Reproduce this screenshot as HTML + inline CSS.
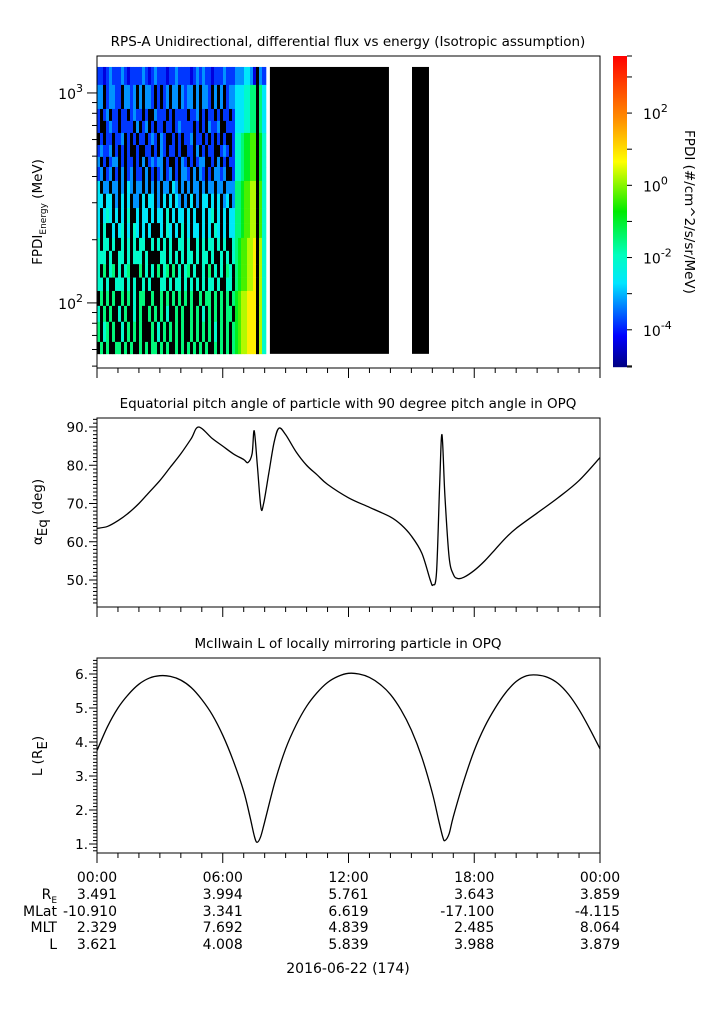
<!DOCTYPE html>
<html><head><meta charset="utf-8"><style>
html,body{margin:0;padding:0;background:#fff;}
svg{display:block;font-family:"DejaVu Sans","Liberation Sans",sans-serif;}
</style></head><body>
<svg id="chart" width="725" height="1019" viewBox="0 0 725 1019" xmlns="http://www.w3.org/2000/svg">
<rect x="0" y="0" width="725" height="1019" fill="#fff"/>
<g id="g1"></g>
<g id="g2"></g>
<g id="g3"></g>
<g id="gcb"></g>
<g id="gtab"></g>
</svg>
<script>
// ---- data ----
const rowEdgesMeV=[1330,1092,839,736,645,565,496,444,381,331,283,240,204,177,153,132,114,96.8,81.3,65.2,57.2];
const fluxRows=[
"1101211121011112101211101121111012121101112111"+"2223320.21",
"22.12211.2212.2.221.1.12.22.2122.2.221.2.2.122"+"3334455.53",
"1.12.11.11.1211.1..2111.1.1111.112.1.11.1.11.1"+"3334455.53",
"1..1211.1111.2.12.1.11.11.121111.1.1.2112..111"+"3334455.53",
".1.11.112.1.1.11.121.21..1.1.112.11.1.1.1.1..1"+"4456677.64",
"12112.1.1.1..1..11.1.21.11.1..11.2.1.11..121.1"+"4456677.64",
"2.1.122.1.11.1.2.12122.1..1.21.1.122..1.2.1.11"+"4456677.64",
"12.12.1.2.12.11.2.1.12.12.1.221.2.21.1.2212..1"+"4456677.64",
"3.22.22.2.32.22.2.2.2.22.32.2.2.22.2.22.22.222"+"5567788.74",
"33.33.2.3.3.22.3.33.2.3.3.32.2.3.2.33.3.3.23.2"+"5567788.74",
"3.343.3.3.4..3.33.3.33.4.3.33.3.3..3.34.3.3.33"+"5567788.74",
"3.4..3.34.3.43.3.3...3.43.3.4.3.33.3.3.43.3.33"+"5567788.74",
"4.44.4..4.4.4.44..4.4.4.4..44.4..4.4.44.4.4..4"+"5677889.84",
"444.4..44.4.444.4....44.4.4.4.44.4.44.4..4.4.4"+"5677889.84",
"4.5.45.4.45...5.4.4.5.45.5.4.45.4..4.5.4.4.54."+"5677889.84",
"44.4..444.4.4..4.4...44.4.44.4.4.4.4.44.4..44."+"5677889.84",
".5.5.5..5.5.4.55..5..5.5.5.5.5.5..5.55.5.5.5.5"+"6788999.84",
"4.5.5..4.5..4.5..5.5.5.4..5.5..5.5.4.5.5.5.55."+"6788999.84",
"5.45.5..4.5.5.5...5.4.5.5.5.5..5.5.5.5.4.5.5.5"+"6788999.84",
".5.5..55.5.5..5.5.55.5.5..5.5.5.5.5.5..5.5.5.5"+"6788999.84"
];
const fillBlocksStart=[8.25,15.03];
const fillBlocksEnd=[13.93,15.84];
const pitchHours=[0,0.5,1,1.5,2,2.5,3,3.5,4,4.5,4.85,5.5,6,6.5,7,7.2,7.4,7.5,7.65,7.82,7.95,8.2,8.45,8.68,9,9.5,10,10.5,11,12,13,14,14.5,15,15.5,15.9,16.03,16.2,16.35,16.46,16.6,16.8,17,17.2,17.5,18,18.5,19,19.5,20,21,22,23,24];
const pitchDeg=[63.5,64,65.5,67.5,70,73,76,79.5,83,87,90,87,85,83,81.5,80.7,83,89,80,69,70,78,86,89.7,88,83.5,80,77.5,75,71.5,69,66.5,64.5,61.5,57,50,48.7,52,75,88,72,56,51.5,50.4,50.7,52.5,55,58,61,63.5,67.5,71.5,76,82];
const lHours=[0,0.5,1,1.5,2,2.5,3,3.5,4,4.5,5,5.5,6,6.5,7,7.3,7.5,7.63,7.8,8,8.5,9,9.5,10,10.5,11,11.5,12,12.5,13,13.5,14,14.5,15,15.5,16,16.3,16.5,16.6,16.8,17,17.5,18,18.5,19,19.5,20,20.5,21,21.5,22,22.5,23,23.5,24];
const lValues=[3.75,4.45,5.0,5.4,5.7,5.88,5.95,5.93,5.82,5.6,5.25,4.8,4.2,3.45,2.55,1.8,1.25,1.05,1.2,1.65,2.85,3.8,4.5,5.05,5.45,5.75,5.93,6.02,6.0,5.9,5.7,5.4,4.95,4.35,3.55,2.5,1.7,1.2,1.1,1.3,1.8,2.85,3.75,4.45,5.0,5.45,5.78,5.95,5.97,5.9,5.72,5.4,4.95,4.4,3.8];
const timeTicks=["00:00","06:00","12:00","18:00","00:00"];
const reVals=["3.491","3.994","5.761","3.643","3.859"];
const mlatVals=["-10.910","3.341","6.619","-17.100","-4.115"];
const mltVals=["2.329","7.692","4.839","2.485","8.064"];
const lVals=["3.621","4.008","5.839","3.988","3.879"];
const pitchTicks=[50,60,70,80,90];
const lTicks=[1,2,3,4,5,6];
const cbTicks=[-4,-2,0,2];

// ---- helpers ----
const NS="http://www.w3.org/2000/svg";
const X0=97,X1=600,FS=13.5;
function xs(h){return X0+(X1-X0)*h/24;}
function mk(parent,tag,attrs,txt){const e=document.createElementNS(NS,tag);for(const k in attrs)e.setAttribute(k,attrs[k]);if(txt!==undefined)e.textContent=txt;parent.appendChild(e);return e;}
function jet(t){
  const st=[[0,[0,0,130]],[0.1,[0,0,255]],[0.27,[0,230,255]],[0.36,[0,255,190]],[0.5,[0,235,0]],[0.66,[255,255,0]],[0.8,[255,140,0]],[1,[255,0,0]]];
  t=Math.max(0,Math.min(1,t));
  for(let i=1;i<st.length;i++){if(t<=st[i][0]){const a=st[i-1],b=st[i];const f=(t-a[0])/(b[0]-a[0]);const c=a[1].map((v,j)=>Math.round(v+(b[1][j]-v)*f));return "rgb("+c.join(",")+")";}}
  return "rgb(255,0,0)";
}
function smoothPath(px,py){
  let d="M"+px[0].toFixed(2)+","+py[0].toFixed(2);
  for(let i=0;i<px.length-1;i++){
    const i0=Math.max(0,i-1),i3=Math.min(px.length-1,i+2);
    const c1x=px[i]+(px[i+1]-px[i0])/6,c1y=py[i]+(py[i+1]-py[i0])/6;
    const c2x=px[i+1]-(px[i3]-px[i])/6,c2y=py[i+1]-(py[i3]-py[i])/6;
    d+="C"+c1x.toFixed(2)+","+c1y.toFixed(2)+" "+c2x.toFixed(2)+","+c2y.toFixed(2)+" "+px[i+1].toFixed(2)+","+py[i+1].toFixed(2);
  }
  return d;
}
const CBmin=-5.03,CBmax=3.58;
function xAxis(g,yb){
  for(let h=0;h<=24;h++){const maj=h%6===0;
    const t=mk(g,"line",{x1:xs(h),x2:xs(h),y1:yb,y2:yb+(maj?10:5),stroke:"#000","stroke-width":1});
    }
}
function frame(g,y0,y1){const r=mk(g,"rect",{x:X0,y:y0,width:X1-X0,height:y1-y0,fill:"none",stroke:"#000","stroke-width":1});}
function title(g,y,txt){const t=mk(g,"text",{x:348,y:y,"text-anchor":"middle","font-size":FS},txt);}

// ---- panel 1: spectrogram ----
const g1=document.getElementById("g1");
const P1T=56,P1B=368,LOGT=3.176,LOGB=1.690;
function ys1(E){return P1T+(LOGT-Math.log10(E))/(LOGT-LOGB)*(P1B-P1T);}
title(g1,46,"RPS-A Unidirectional, differential flux vs energy (Isotropic assumption)");
const nCols=56,colW=3;
for(let r=0;r<fluxRows.length;r++){
  const s=fluxRows[r].padEnd(nCols,".");
  const yt=ys1(rowEdgesMeV[r]),yb=ys1(rowEdgesMeV[r+1]);
  for(let c=0;c<nCols;c++){
    const ch=s[c];
    let col="#000";
    if(ch!=="."){const lg=-4.4+parseInt(ch)*0.58;col=jet((lg-CBmin)/(CBmax-CBmin));}
    const w=(c===nCols-1)?4:colW;
    const e=mk(g1,"rect",{x:X0+c*colW,y:yt,width:w+0.3,height:yb-yt+0.3,fill:col});
    
    
  }
}
for(let i=0;i<fillBlocksStart.length;i++){
  const e=mk(g1,"rect",{x:xs(fillBlocksStart[i]),y:ys1(rowEdgesMeV[0]),width:xs(fillBlocksEnd[i])-xs(fillBlocksStart[i]),height:ys1(rowEdgesMeV[rowEdgesMeV.length-1])-ys1(rowEdgesMeV[0]),fill:"#000"});
  
  
}
frame(g1,P1T,P1B);xAxis(g1,P1B);
for(let d=1;d<=3;d++){for(let m=1;m<10;m++){const E=m*Math.pow(10,d);if(E<Math.pow(10,LOGB)||E>Math.pow(10,LOGT))continue;const y=ys1(E);
  const t=mk(g1,"line",{x1:X0,x2:X0-(m===1?10:5),y1:y,y2:y,stroke:"#000"});
  if(m===1){const tx=mk(g1,"text",{x:X0-14,y:y+6,"text-anchor":"end","font-size":14});
    mk(tx,"tspan",{},"10");mk(tx,"tspan",{dy:-7,"font-size":11},String(d));}}}
{const t=mk(g1,"text",{transform:"translate(42,212) rotate(-90)","text-anchor":"middle","font-size":FS});
mk(t,"tspan",{},"FPDI");mk(t,"tspan",{dy:4,"font-size":9},"Energy");mk(t,"tspan",{dy:-4}," (MeV)");}

// ---- colorbar ----
const gcb=document.getElementById("gcb");
const CBT=56,CBB=367;
for(let y=CBT;y<CBB;y++){const lg=CBmax-(y-CBT+0.5)/(CBB-CBT)*(CBmax-CBmin);mk(gcb,"rect",{x:613,y:y,width:14,height:1.2,fill:jet((lg-CBmin)/(CBmax-CBmin))});}
function ycb(lg){return CBT+(CBmax-lg)/(CBmax-CBmin)*(CBB-CBT);}
for(let lg=-5;lg<=3;lg++){const y=ycb(lg);if(y<CBT||y>CBB)continue;const t=mk(gcb,"line",{x1:627,x2:632,y1:y,y2:y,stroke:"#000"});}
mk(gcb,"line",{x1:627,x2:632,y1:CBT,y2:CBT,stroke:"#000"});mk(gcb,"line",{x1:627,x2:632,y1:CBB,y2:CBB,stroke:"#000"});
cbTicks.forEach(lg=>{const y=ycb(lg);const tx=mk(gcb,"text",{x:643,y:y+6,"font-size":14});mk(tx,"tspan",{},"10");mk(tx,"tspan",{dy:-7,"font-size":11},String(lg));});
{const t=mk(gcb,"text",{transform:"translate(685,212) rotate(90)","text-anchor":"middle","font-size":FS},"FPDI (#/cm^2/s/sr/MeV)");}

// ---- panel 2: pitch angle ----
const g2=document.getElementById("g2");
const P2T=418,P2B=607;
function ys2(v){return 427+(90-v)*(580-427)/40;}
title(g2,408,"Equatorial pitch angle of particle with 90 degree pitch angle in OPQ");
frame(g2,P2T,P2B);xAxis(g2,P2B);
for(let v=44;v<=92;v++){const y=ys2(v);if(y<P2T||y>P2B)continue;const maj=v%10===0;const t=mk(g2,"line",{x1:X0,x2:X0-(maj?8:4),y1:y,y2:y,stroke:"#000"});}
pitchTicks.forEach(v=>{const t=mk(g2,"text",{x:X0-9,y:ys2(v)+5,"text-anchor":"end","font-size":FS},v+".");});
{const t=mk(g2,"text",{transform:"translate(42,512) rotate(-90)","text-anchor":"middle","font-size":FS});
mk(t,"tspan",{},"α");mk(t,"tspan",{dy:5},"Eq");mk(t,"tspan",{dy:-5}," (deg)");}
{const d=smoothPath(pitchHours.map(xs),pitchDeg.map(ys2));
const p=mk(g2,"path",{d:d,fill:"none",stroke:"#000","stroke-width":1.3,"stroke-linejoin":"round"});}

// ---- panel 3: L shell ----
const g3=document.getElementById("g3");
const P3T=658,P3B=853;
function ys3(v){return 674+(6-v)*(844-674)/5;}
title(g3,648,"McIlwain L of locally mirroring particle in OPQ");
frame(g3,P3T,P3B);xAxis(g3,P3B);
for(let k=7;k<=64;k++){const v=k/10;const y=ys3(v);if(y<P3T||y>P3B)continue;const maj=k%10===0;const t=mk(g3,"line",{x1:X0,x2:X0-(maj?8:4),y1:y,y2:y,stroke:"#000"});}
lTicks.forEach(v=>{const t=mk(g3,"text",{x:X0-9,y:ys3(v)+5,"text-anchor":"end","font-size":FS},v+".");});
{const t=mk(g3,"text",{transform:"translate(42,756) rotate(-90)","text-anchor":"middle","font-size":FS});
mk(t,"tspan",{},"L (R");mk(t,"tspan",{dy:5},"E");mk(t,"tspan",{dy:-5},")");}
{const d=smoothPath(lHours.map(xs),lValues.map(ys3));
const p=mk(g3,"path",{d:d,fill:"none",stroke:"#000","stroke-width":1.3,"stroke-linejoin":"round"});}

// ---- table ----
const gt=document.getElementById("gtab");
const rowsY=[882,899,916,932,949];
const rowsData=[timeTicks,reVals,mlatVals,mltVals,lVals];
for(let r=0;r<5;r++){for(let c=0;c<5;c++){const x=xs(c*6)+(r===0?0:20);
  const t=mk(gt,"text",{x:x,y:rowsY[r],"text-anchor":r===0?"middle":"end","font-size":14},rowsData[r][c]);
  }}
{const t=mk(gt,"text",{x:57,y:899,"text-anchor":"end","font-size":14});mk(t,"tspan",{},"R");mk(t,"tspan",{dy:4,"font-size":9},"E");}
[["MLat",916],["MLT",932],["L",949]].forEach(a=>{const t=mk(gt,"text",{x:57,y:a[1],"text-anchor":"end","font-size":14},a[0]);});
{const t=mk(gt,"text",{x:348,y:973,"text-anchor":"middle","font-size":14},"2016-06-22 (174)");}
</script>
</body></html>
